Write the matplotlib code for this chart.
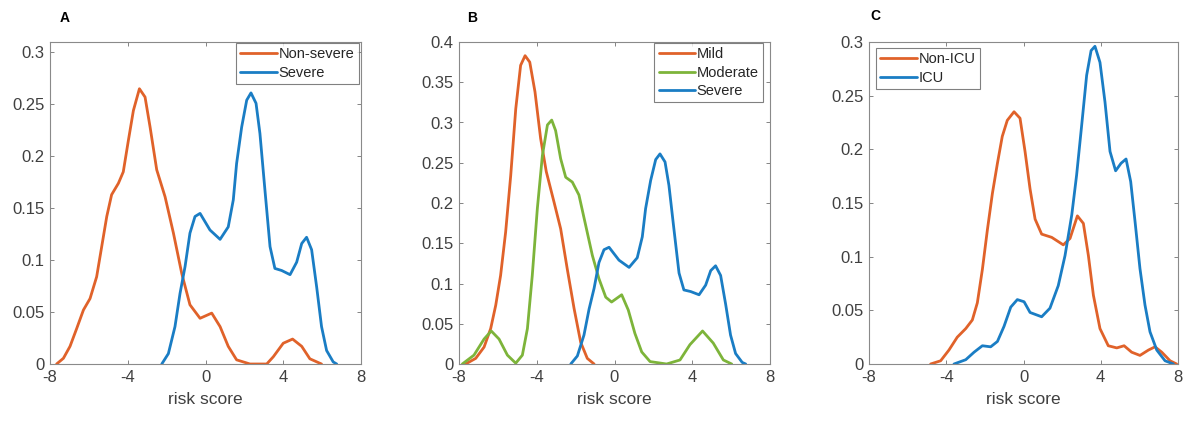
import matplotlib
matplotlib.use('Agg')
import matplotlib.pyplot as plt

plt.rcParams['font.family'] = ['Liberation Sans', 'DejaVu Sans']
plt.rcParams['axes.unicode_minus'] = False

ORANGE = '#E0622A'
BLUE = '#1A7DC4'
GREEN = '#7DB43A'
GRAY = '#404040'

# Panel A: Non-severe vs Severe (kernel densities)
a_nonsev_x = [-7.66, -7.31, -6.97, -6.63, -6.28, -5.94, -5.60, -5.34, -5.08, -4.83,
              -4.48, -4.23, -3.97, -3.71, -3.40, -3.11, -2.85, -2.51, -2.08, -1.65,
              -1.22, -0.80, -0.28, 0.32, 0.75, 1.17, 1.60, 2.29, 3.15, 3.49,
              4.00, 4.48, 4.95, 5.37, 5.97]
a_nonsev_y = [0.0, 0.0055, 0.017, 0.034, 0.052, 0.063, 0.084, 0.113, 0.142, 0.163,
              0.174, 0.185, 0.215, 0.244, 0.265, 0.257, 0.228, 0.187, 0.161, 0.126,
              0.087, 0.057, 0.044, 0.049, 0.036, 0.017, 0.004, 0.0, 0.0, 0.007,
              0.020, 0.024, 0.017, 0.005, 0.0]

severe_x = [-2.25, -1.91, -1.57, -1.31, -1.05, -0.80, -0.54, -0.28, 0.23, 0.75,
            1.17, 1.43, 1.60, 1.86, 2.12, 2.34, 2.60, 2.80, 3.06, 3.32,
            3.57, 3.92, 4.35, 4.69, 4.95, 5.20, 5.46, 5.72, 5.97, 6.23,
            6.57, 6.75]
severe_y = [0.0, 0.010, 0.036, 0.068, 0.094, 0.126, 0.142, 0.145, 0.129, 0.120,
            0.132, 0.158, 0.193, 0.228, 0.254, 0.261, 0.251, 0.222, 0.167, 0.113,
            0.092, 0.090, 0.086, 0.098, 0.116, 0.122, 0.110, 0.074, 0.036, 0.013,
            0.002, 0.0]

# Panel B: Mild / Moderate / Severe
b_mild_x = [-7.66, -7.14, -6.71, -6.37, -6.11, -5.86, -5.60, -5.34, -5.08, -4.83,
            -4.60, -4.36, -4.09, -3.80, -3.51, -3.11, -2.77, -2.43, -2.08, -1.74,
            -1.40, -1.05]
b_mild_y = [0.0, 0.007, 0.021, 0.044, 0.073, 0.110, 0.164, 0.234, 0.317, 0.371,
            0.383, 0.375, 0.338, 0.280, 0.239, 0.201, 0.168, 0.118, 0.069, 0.027,
            0.007, 0.0]

b_mod_x = [-7.83, -7.23, -6.71, -6.34, -5.94, -5.51, -5.08, -4.74, -4.48, -4.23,
           -3.97, -3.71, -3.45, -3.23, -3.03, -2.77, -2.51, -2.17, -1.83, -1.48,
           -1.14, -0.80, -0.45, -0.15, 0.37, 0.71, 1.05, 1.40, 1.83, 2.68,
           3.37, 3.88, 4.53, 5.08, 5.60, 6.03]
b_mod_y = [0.0, 0.011, 0.031, 0.041, 0.031, 0.011, 0.001, 0.011, 0.044, 0.110,
           0.193, 0.259, 0.297, 0.303, 0.290, 0.255, 0.232, 0.226, 0.210, 0.172,
           0.135, 0.106, 0.083, 0.077, 0.086, 0.067, 0.038, 0.015, 0.003, 0.0,
           0.005, 0.024, 0.041, 0.026, 0.005, 0.0]

# Panel C: Non-ICU vs ICU
c_nonicu_x = [-4.81, -4.29, -3.86, -3.43, -2.99, -2.65, -2.39, -2.13, -1.87, -1.61,
              -1.35, -1.10, -0.84, -0.49, -0.18, 0.08, 0.34, 0.60, 0.94, 1.46,
              2.06, 2.41, 2.79, 3.10, 3.36, 3.62, 3.96, 4.39, 4.83, 5.21,
              5.60, 6.03, 6.47, 6.81, 7.16, 7.59, 7.93]
c_nonicu_y = [0.0, 0.003, 0.013, 0.025, 0.033, 0.041, 0.057, 0.088, 0.125, 0.159,
              0.187, 0.212, 0.227, 0.235, 0.229, 0.198, 0.163, 0.135, 0.121, 0.118,
              0.111, 0.117, 0.138, 0.131, 0.101, 0.064, 0.033, 0.017, 0.015, 0.017,
              0.011, 0.008, 0.013, 0.016, 0.011, 0.003, 0.0]

c_icu_x = [-3.60, -2.99, -2.56, -2.13, -1.70, -1.35, -1.01, -0.66, -0.32, 0.03,
           0.34, 0.94, 1.37, 1.80, 2.15, 2.50, 2.75, 3.01, 3.27, 3.50,
           3.70, 3.96, 4.22, 4.48, 4.77, 5.05, 5.31, 5.55, 5.78, 6.03,
           6.29, 6.55, 6.90, 7.33, 7.76]
c_icu_y = [0.0, 0.004, 0.011, 0.017, 0.016, 0.021, 0.035, 0.053, 0.060, 0.058,
           0.048, 0.044, 0.052, 0.073, 0.101, 0.139, 0.176, 0.222, 0.269, 0.292,
           0.296, 0.281, 0.244, 0.198, 0.180, 0.187, 0.191, 0.170, 0.132, 0.089,
           0.055, 0.030, 0.013, 0.003, 0.0]

xticks = [-8, -4, 0, 4, 8]

fig = plt.figure(figsize=(11.9, 4.23), dpi=100)
W, H = 1190, 423


def make_axes(left, right, top=42, bottom=364):
    return fig.add_axes([left / W, 1 - bottom / H, (right - left) / W, (bottom - top) / H])


def style(ax, ymax, yticks):
    ax.set_xlim(-8, 8)
    ax.set_ylim(0, ymax)
    ax.set_xticks(xticks)
    ax.set_yticks(yticks)
    ax.set_yticklabels(['%g' % v for v in yticks])
    ax.tick_params(direction='in', top=True, right=True, length=3, width=0.6,
                   colors='#707070', labelsize=12, labelcolor=GRAY, pad=4)
    for s in ax.spines.values():
        s.set_color('#8a8a8a')
        s.set_linewidth(0.8)
    ax.set_xlabel('risk score', fontsize=12.5, color=GRAY, labelpad=5)


def legend(ax, loc, anchor):
    leg = ax.legend(loc=loc, bbox_to_anchor=anchor, fontsize=10.5, frameon=True,
                    fancybox=False, handlelength=2.5, handletextpad=0.1,
                    borderpad=0.3, labelspacing=0.3, borderaxespad=0)
    leg.get_frame().set_edgecolor('#606060')
    leg.get_frame().set_linewidth(0.8)
    for t in leg.get_texts():
        t.set_color('#262626')


lw = 2.0
kw = dict(lw=lw, solid_joinstyle='round', solid_capstyle='round')

axA = make_axes(50, 361)
axA.plot(a_nonsev_x, a_nonsev_y, color=ORANGE, label='Non-severe', **kw)
axA.plot(severe_x, severe_y, color=BLUE, label='Severe', **kw)
style(axA, 0.31, [0, 0.05, 0.1, 0.15, 0.2, 0.25, 0.3])
legend(axA, 'upper right', (0.992, 0.997))
fig.text(65 / W, 1 - 18 / H, 'A', fontsize=10, fontweight='bold', ha='center', va='center')

axB = make_axes(459, 770)
axB.plot(b_mild_x, b_mild_y, color=ORANGE, label='Mild', **kw)
axB.plot(b_mod_x, b_mod_y, color=GREEN, label='Moderate', **kw)
axB.plot(severe_x, severe_y, color=BLUE, label='Severe', **kw)
style(axB, 0.4, [0, 0.05, 0.1, 0.15, 0.2, 0.25, 0.3, 0.35, 0.4])
legend(axB, 'upper right', (0.977, 0.997))
fig.text(472 / W, 1 - 18 / H, 'B', fontsize=10, fontweight='bold', ha='center', va='center')

axC = make_axes(869, 1178)
axC.plot(c_nonicu_x, c_nonicu_y, color=ORANGE, label='Non-ICU', **kw)
axC.plot(c_icu_x, c_icu_y, color=BLUE, label='ICU', **kw)
style(axC, 0.3, [0, 0.05, 0.1, 0.15, 0.2, 0.25, 0.3])
legend(axC, 'upper left', (0.023, 0.981))
fig.text(875 / W, 1 - 16 / H, 'C', fontsize=10, fontweight='bold', ha='center', va='center')

fig.savefig('out.png', dpi=100, facecolor='white')
